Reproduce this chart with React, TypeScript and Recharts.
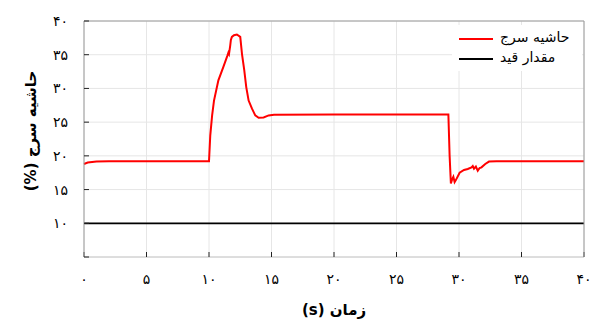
import { LineChart, Line, XAxis, YAxis, CartesianGrid } from 'recharts'

// red: surge margin, black: constraint value
const SURGE_X = [
  0, 0.3, 1, 2, 10.0, 10.1, 10.25, 10.4, 10.75, 11.15, 11.48, 11.55, 11.6, 11.7, 11.75,
  11.83, 12.0, 12.23, 12.5, 12.64, 12.82, 12.98, 13.17, 13.44, 13.7, 13.97, 14.37, 14.77,
  15.2, 20, 29.15, 29.25, 29.35, 29.45, 29.55, 29.65, 29.75, 30.05, 30.4, 30.7, 31.0,
  31.1, 31.2, 31.35, 31.5, 31.65, 31.8, 32.1, 32.4, 33, 40,
]
const SURGE_Y = [
  18.8, 19.0, 19.15, 19.2, 19.2, 23, 26, 28.2, 31.2, 33.2, 34.9, 35.3, 35.1, 36.4, 37.2,
  37.65, 37.9, 38.0, 37.65, 35.1, 32.7, 30.2, 28.2, 27.0, 26.0, 25.65, 25.7, 26.0,
  26.1, 26.15, 26.15, 20, 15.9, 16.5, 16.9, 16.1, 16.4, 17.5, 17.9, 18.05, 18.3,
  18.5, 18.1, 18.4, 17.8, 18.2, 18.3, 18.8, 19.15, 19.2, 19.2,
]
const LIMIT_X = [0, 40]
const LIMIT_Y = [10, 10]

const X_TICKS = [0, 5, 10, 15, 20, 25, 30, 35, 40]
const Y_TICKS = [5, 10, 15, 20, 25, 30, 35, 40]

const SERIES_NAMES = ['حاشیه سرج', 'مقدار قید']
const SERIES_COLORS = ['#ff0000', '#000000']

const X_TITLE = 'زمان (s)'
const Y_TITLE = 'حاشیه سرج (%)'

const surgeData = SURGE_X.map((x, i) => ({ x, y: SURGE_Y[i] }))
const limitData = LIMIT_X.map((x, i) => ({ x, y: LIMIT_Y[i] }))

const FA_DIGITS = '۰۱۲۳۴۵۶۷۸۹'
const toFa = (n: number) => String(n).replace(/\d/g, (d) => FA_DIGITS[Number(d)])

const FONT = '"DejaVu Sans", sans-serif'
const tickStyle = { fill: '#000', fontSize: 14, fontFamily: FONT }

export default function App() {
  return (
    <div style={{ position: 'absolute', left: 0, top: 0, width: 606, height: 322, background: '#fff' }}>
      <LineChart width={606} height={322} margin={{ top: 20, right: 21, left: 24, bottom: 35 }}>
        <CartesianGrid stroke="#e6e6e6" strokeWidth={1} />
        <XAxis
          dataKey="x"
          type="number"
          domain={[0, 40]}
          ticks={X_TICKS}
          height={30}
          tickFormatter={toFa}
          tick={tickStyle}
          tickSize={-5}
          tickMargin={22}
          axisLine={{ stroke: '#c8c8c8' }}
          tickLine={{ stroke: '#222' }}
          interval={0}
        />
        <XAxis
          xAxisId="top"
          orientation="top"
          type="number"
          domain={[0, 40]}
          ticks={X_TICKS}
          height={1}
          tick={false}
          tickSize={-5}
          axisLine={{ stroke: '#9a9a9a' }}
          tickLine={{ stroke: '#222' }}
          interval={0}
        />
        <YAxis
          type="number"
          domain={[5, 40]}
          ticks={Y_TICKS}
          width={60}
          tickFormatter={(v: number) => (v === 5 ? '' : toFa(v))}
          tick={tickStyle}
          tickSize={-5}
          tickMargin={21}
          axisLine={{ stroke: '#9a9a9a' }}
          tickLine={{ stroke: '#222' }}
          interval={0}
        />
        <YAxis
          yAxisId="right"
          orientation="right"
          type="number"
          domain={[5, 40]}
          ticks={Y_TICKS}
          width={1}
          tick={false}
          tickSize={-5}
          axisLine={{ stroke: '#9a9a9a' }}
          tickLine={{ stroke: '#222' }}
          interval={0}
        />
        <Line
          data={limitData}
          dataKey="y"
          type="linear"
          stroke={SERIES_COLORS[1]}
          strokeWidth={1.8}
          dot={false}
          isAnimationActive={false}
        />
        <Line
          data={surgeData}
          dataKey="y"
          type="linear"
          stroke={SERIES_COLORS[0]}
          strokeWidth={2}
          dot={false}
          isAnimationActive={false}
        />
      </LineChart>

      {/* legend */}
      <div style={{ position: 'absolute', left: 452, top: 25, width: 130, height: 46, background: '#fff' }}>
        {SERIES_NAMES.map((name, i) => (
          <div key={name} style={{ position: 'absolute', left: 0, top: 4 + i * 20, height: 20, width: 130 }}>
            <span style={{ position: 'absolute', left: 7, top: 9, width: 34, height: 2, background: SERIES_COLORS[i] }} />
            <span style={{ position: 'absolute', left: 48, top: 0, fontFamily: FONT, fontSize: 14, color: '#000', direction: 'rtl', whiteSpace: 'nowrap' }}>
              {name}
            </span>
          </div>
        ))}
      </div>

      <div style={{ position: 'absolute', left: 234, top: 301, width: 200, textAlign: 'center', fontFamily: FONT, fontSize: 15, fontWeight: 'bold', direction: 'rtl' }}>
        {X_TITLE}
      </div>
      <div style={{ position: 'absolute', left: 31 - 100, top: 131 - 10, width: 200, height: 20, lineHeight: '20px', textAlign: 'center', transform: 'rotate(-90deg)', fontFamily: FONT, fontSize: 15, fontWeight: 'bold', direction: 'rtl' }}>
        {Y_TITLE}
      </div>
    </div>
  )
}
